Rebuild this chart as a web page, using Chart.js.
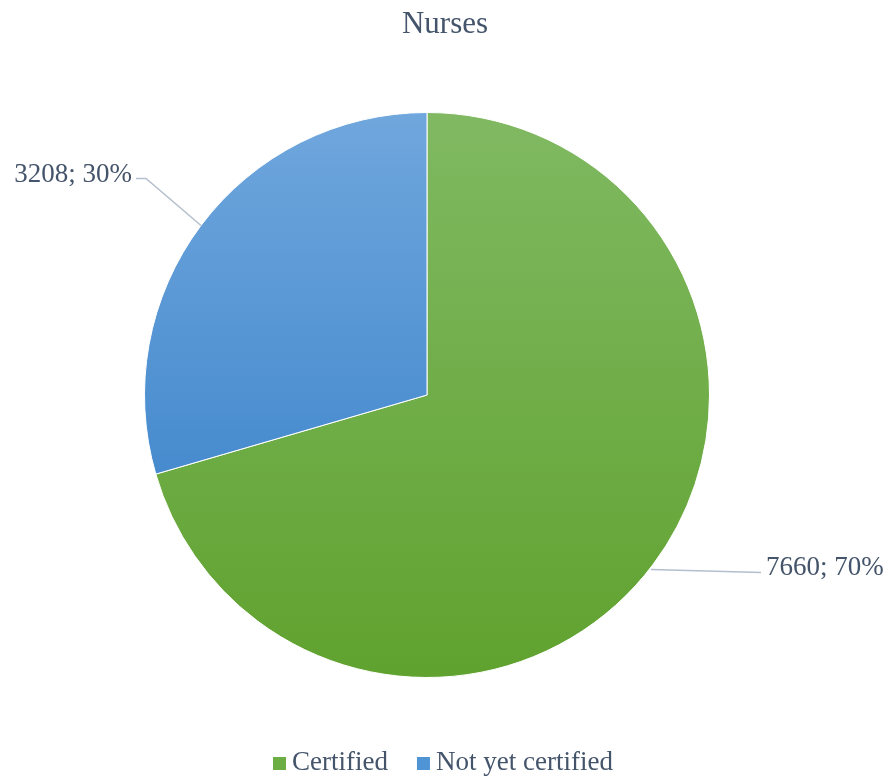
<!DOCTYPE html>
<html>
<head>
<meta charset="utf-8">
<script src="https://cdn.jsdelivr.net/npm/chart.js@4/dist/chart.umd.min.js"></script>
<style>
  html, body { margin: 0; padding: 0; background: #fff; }
  #wrap { width: 888px; height: 776px; }
</style>
</head>
<body>
<div id="wrap"><canvas id="chart"></canvas></div>
<script>
// chart data
const chartTitle = 'Nurses';
const categories = ['Certified', 'Not yet certified'];
const values = [7660, 3208];
const percents = ['70%', '30%'];

const textColor = '#44546a';
const serif = '"Liberation Serif", "Times New Roman", serif';

// vertical gradients like the office chart
const gradients = [
    ['#80b962', '#60a22f'],
    ['#70a7dd', '#2f7bc6']
];
const legendColors = ['#6cae44', '#4f95d6'];

const makeFill = (context) => {
    const chart = context.chart;
    const area = chart.chartArea;
    const i = context.dataIndex;
    if (!area) return gradients[i][0];
    const g = chart.ctx.createLinearGradient(0, area.top, 0, area.bottom);
    g.addColorStop(0, gradients[i][0]);
    g.addColorStop(1, gradients[i][1]);
    return g;
};

// title, data labels with leader lines, legend
const decorations = {
    id: 'decorations',
    afterDraw(chart) {
        const ctx = chart.ctx;
        ctx.save();

        // title
        ctx.fillStyle = textColor;
        ctx.font = '31px ' + serif;
        ctx.textAlign = 'center';
        ctx.textBaseline = 'middle';
        ctx.fillText(chartTitle, 445, 25);

        // data labels
        const meta = chart.getDatasetMeta(0);
        ctx.font = '27px ' + serif;
        meta.data.forEach((arc, i) => {
            const p = arc.getProps(['x', 'y', 'startAngle', 'endAngle', 'outerRadius'], true);
            const mid = (p.startAngle + p.endAngle) / 2;
            const sx = p.x + Math.cos(mid) * p.outerRadius;
            const sy = p.y + Math.sin(mid) * p.outerRadius;
            const label = values[i] + '; ' + percents[i];
            ctx.strokeStyle = '#b4bfcd';
            ctx.lineWidth = 1.5;
            ctx.beginPath();
            if (Math.cos(mid) < 0) {
                const ex = sx - 55, ey = sy - 47;
                ctx.moveTo(sx, sy);
                ctx.lineTo(ex, ey);
                ctx.lineTo(ex - 10, ey);
                ctx.stroke();
                ctx.textAlign = 'right';
                ctx.fillText(label, ex - 14, ey - 4);
            } else {
                ctx.moveTo(sx - 2, sy + 5);
                ctx.lineTo(sx + 108, sy + 8);
                ctx.stroke();
                ctx.textAlign = 'left';
                ctx.fillText(label, sx + 113, sy + 3);
            }
        });

        // legend
        const box = 13;
        const y = 763;
        let x = 273;
        ctx.textAlign = 'left';
        categories.forEach((c, i) => {
            ctx.fillStyle = legendColors[i];
            ctx.fillRect(x, y - 6, box, box);
            ctx.fillStyle = textColor;
            ctx.fillText(c, x + box + 6, y);
            x += box + 6 + ctx.measureText(c).width + 29;
        });

        ctx.restore();
    }
};

new Chart(document.getElementById('chart'), {
    type: 'pie',
    data: {
        labels: categories,
        datasets: [{
            data: values,
            backgroundColor: makeFill,
            borderColor: '#ffffff',
            borderWidth: 1
        }]
    },
    options: {
        responsive: true,
        maintainAspectRatio: false,
        animation: false,
        layout: {
            padding: { left: 144, right: 178, top: 112, bottom: 98 }
        },
        plugins: {
            legend: { display: false },
            title: { display: false },
            tooltip: { enabled: false }
        }
    },
    plugins: [decorations]
});
</script>
</body>
</html>
